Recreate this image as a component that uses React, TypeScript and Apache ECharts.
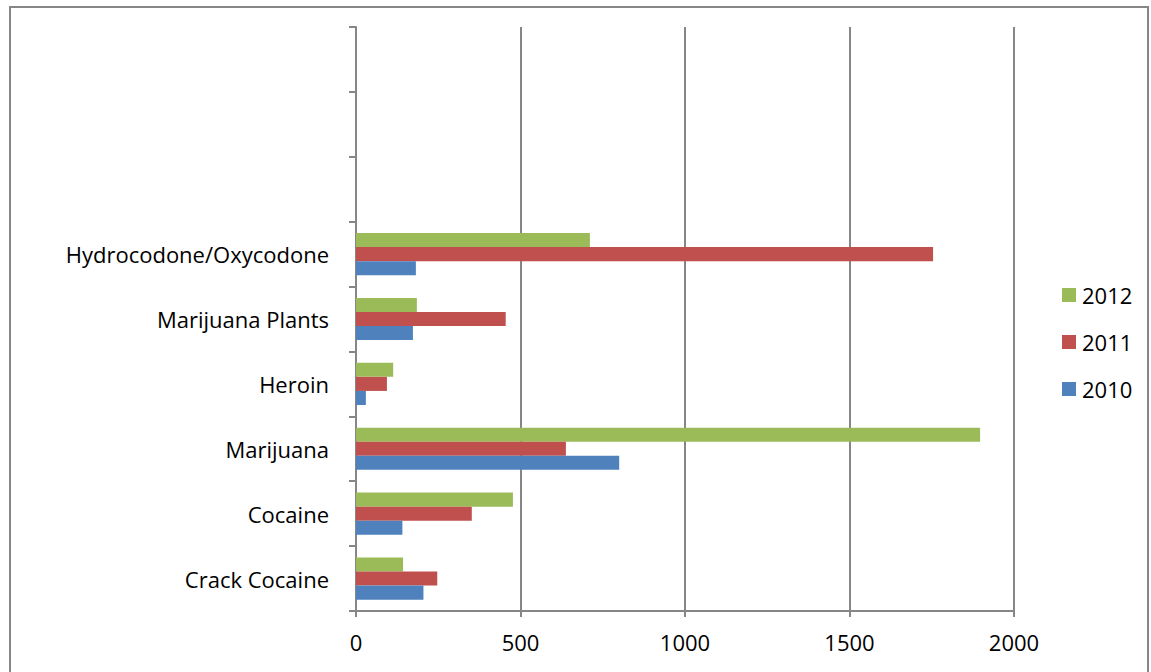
import React, { useEffect, useRef } from "react";
import * as echarts from "echarts";

const categories = ["Crack Cocaine", "Cocaine", "Marijuana", "Heroin", "Marijuana Plants", "Hydrocodone/Oxycodone", "", "", ""];
const values2010 = [205, 141, 800, 30, 173, 182, null, null, null];
const values2011 = [247, 352, 638, 94, 455, 1754, null, null, null];
const values2012 = [143, 477, 1897, 113, 185, 711, null, null, null];
const xTicks = [0, 500, 1000, 1500, 2000];

const FONT = "Open Sans";
const GRAY = "#868686";

export default function App() {
  const ref = useRef<HTMLDivElement>(null);
  useEffect(() => {
    const chart = echarts.init(ref.current!, null, { renderer: "svg" });
    chart.setOption({
      animation: false,
      backgroundColor: "#fff",
      graphic: [
        {
          type: "rect",
          shape: { x: 10, y: 7, width: 1138, height: 700 },
          style: { fill: "none", stroke: GRAY, lineWidth: 2 },
          silent: true,
        },
      ],
      legend: {
        data: ["2012", "2011", "2010"],
        orient: "vertical",
        left: 1062,
        top: 284,
        padding: 0,
        itemWidth: 14,
        itemHeight: 14,
        itemGap: 25,
        icon: "rect",
        textStyle: { fontFamily: FONT, fontSize: 22, lineHeight: 22, color: "#000", padding: [0, 0, 0, 1] },
      },
      grid: { left: 356, right: 137, top: 27, bottom: 61, containLabel: false },
      xAxis: {
        type: "value",
        min: xTicks[0],
        max: xTicks[xTicks.length - 1],
        interval: 500,
        axisLine: { show: true, lineStyle: { color: GRAY, width: 2 } },
        axisTick: { show: true, length: 6, lineStyle: { color: GRAY, width: 2 } },
        axisLabel: { fontFamily: FONT, fontSize: 22, color: "#000", margin: 20, formatter: (v: number) => String(v) },
        splitLine: { show: true, lineStyle: { color: GRAY, width: 2 } },
      },
      yAxis: {
        type: "category",
        data: categories,
        axisLine: { show: true, lineStyle: { color: GRAY, width: 2 } },
        axisTick: { show: true, length: 7, lineStyle: { color: GRAY, width: 2 } },
        axisLabel: { fontFamily: FONT, fontSize: 22, color: "#000", margin: 27 },
        splitLine: { show: false },
      },
      series: [
        { name: "2012", type: "bar", data: values2012, itemStyle: { color: "#9BBB59" }, barGap: "0%", barCategoryGap: "35%" },
        { name: "2011", type: "bar", data: values2011, itemStyle: { color: "#C0504D" }, barGap: "0%", barCategoryGap: "35%" },
        { name: "2010", type: "bar", data: values2010, itemStyle: { color: "#4F81BD" }, barGap: "0%", barCategoryGap: "35%" },
      ],
    });
    return () => chart.dispose();
  }, []);
  return <div ref={ref} style={{ position: "fixed", left: 0, top: 0, width: 1151, height: 672 }} />;
}
